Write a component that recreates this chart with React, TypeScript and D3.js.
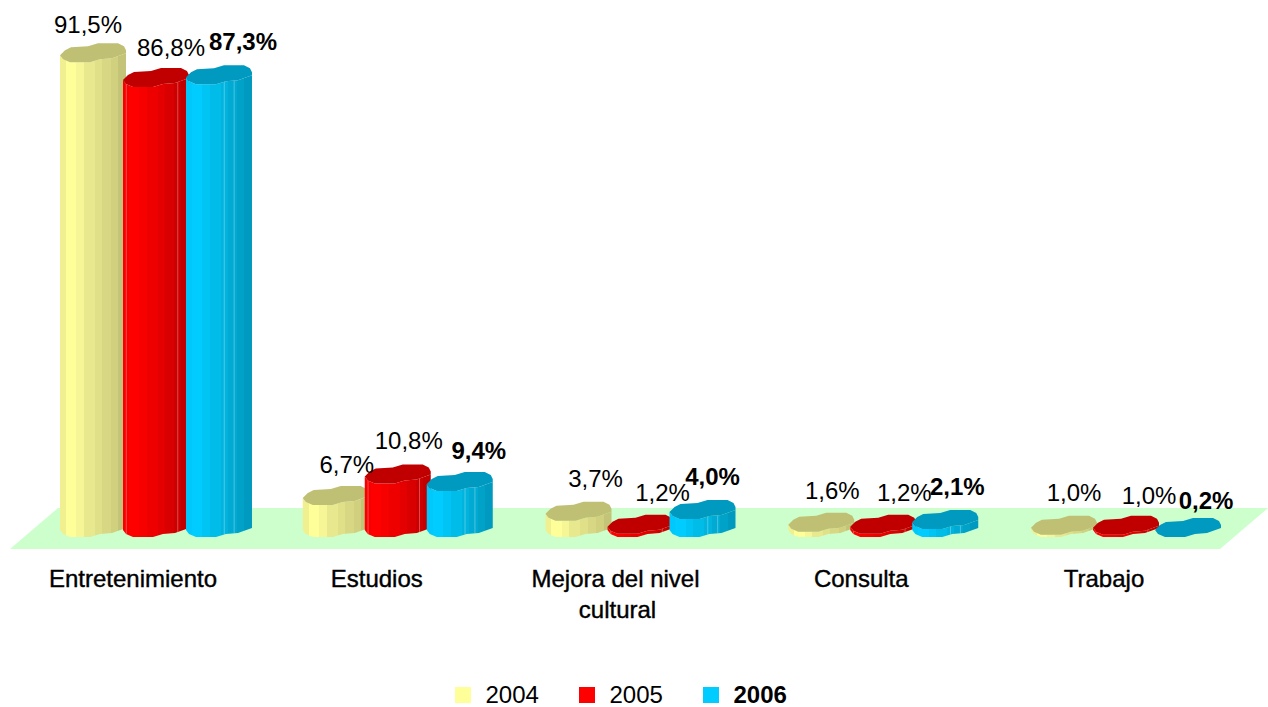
import React from "react";
import * as d3 from "d3";

const categories = ["Entretenimiento", "Estudios", "Mejora del nivel cultural", "Consulta", "Trabajo"];
const years = ["2004", "2005", "2006"];
const values2004 = [91.5, 6.7, 3.7, 1.6, 1.0];
const values2005 = [86.8, 10.8, 1.2, 1.2, 1.0];
const values2006 = [87.3, 9.4, 4.0, 2.1, 0.2];
const seriesValues = [values2004, values2005, values2006];

// colours: top surface + stepped shading of the side
const tops = ["#c0c074", "#c00000", "#0099c0"];
const legendColors = ["#ffff99", "#ff0000", "#00ccff"];
const sideBands = [
  ["#f0f090", "#ffff99", "#f6f697", "#e8e88e", "#e0e088", "#d8d884", "#d0d07e", "#c4c478"],
  ["#f80000", "#ff0000", "#f60000", "#ee0000", "#e40000", "#d80000", "#cc0000", "#c00000"],
  ["#00c8fa", "#00ccff", "#00c4f4", "#00bce8", "#00b4de", "#00aad2", "#00a2c8", "#0099c0"],
];
const bandWidths = [0.09, 0.16, 0.11, 0.17, 0.11, 0.13, 0.11, 0.12];
// thin light ridges on the side, as fraction of the bar width
const ridges = [[], [0.05, 0.83], [0.58, 0.73]];

// lumpy outline of a bar's top, relative to its left edge
const outlineBack: [number, number][] = [[0, 0], [5, -5], [11, -8], [28, -9], [38, -12], [58, -12], [64, -9], [66, -5]];
const outlineFront: [number, number][] = [[66, -2], [52, 3], [40, 4], [30, 7], [10, 7], [3, 4], [0, 0]];

// hand placement of the value labels, per category and series [dx, baseline offset]
const labelNudge: [number, number][][] = [
  [[28, -22], [48, -24], [57, -27]],
  [[44, -25], [44, -28], [52, -25]],
  [[50, -27], [55, -26], [43, -27]],
  [[44, -26], [54, -26], [45, -27]],
  [[43, -27], [56, -24], [51, -23]],
];
const catNudge = [0, 1, -3, 0, 0];

const W = 1268;
const H = 707;
const baseY = 533;
const barBottom = 530;
const barW = 66;
const font = "'Liberation Sans', Arial, sans-serif";

const x0 = d3.scalePoint<string>().domain(categories).range([60, 1031]);
const x1 = d3.scalePoint<string>().domain(years).range([0, 124]);
const y = d3.scaleLinear().domain([0, 100]).range([baseY, baseY - 522]);
const path = d3.line<[number, number]>().x((d) => d[0]).y((d) => d[1]);

// first group sits a bit wider apart than the others
const barLeft = (cat: string, yi: number) =>
  (x0(cat) as number) + (x1(years[yi]) as number) * (cat === categories[0] ? 1.016 : 1);

const frontY = d3
  .scaleLinear()
  .domain(outlineFront.map((p) => p[0]).reverse())
  .range(outlineFront.map((p) => p[1]).reverse());

const Bar = ({ cat, yi, value }: { cat: string; yi: number; value: number }) => {
  const left = barLeft(cat, yi);
  const top = Math.min(y(value), barBottom);
  const h = barBottom - top;
  const at = (p: [number, number], dy = 0): [number, number] => [left + p[0], top + p[1] + dy];
  const topShape = [...outlineBack, ...outlineFront].map((p) => at(p));
  const side = [
    ...outlineFront.map((p) => at(p)).reverse(),
    ...outlineFront.map((p) => at(p, h)),
  ];
  return (
    <g>
      <path d={path(side) + "Z"} fill={`url(#side${yi})`} />
      {ridges[yi].map((f) => {
        const px = f * barW;
        return (
          <line
            key={f}
            x1={left + px}
            x2={left + px}
            y1={top + frontY(px)}
            y2={top + frontY(px) + h}
            stroke="#fff"
            strokeOpacity={0.3}
          />
        );
      })}
      <path d={path(topShape) + "Z"} fill={tops[yi]} />
    </g>
  );
};

export default function App() {
  const floor: [number, number][] = [[58, 508], [1268, 508], [1220, 549], [10, 549]];
  const bandEdges = d3.cumsum(bandWidths);
  return (
    <svg
      width={W}
      height={H}
      viewBox={`0 0 ${W} ${H}`}
      style={{ position: "absolute", left: 0, top: 0 }}
      fontFamily={font}
      fontSize={24}
    >
      <defs>
        {sideBands.map((bands, i) => (
          <linearGradient key={i} id={`side${i}`} x1="0" x2="1" y1="0" y2="0">
            {bands.flatMap((c, k) => [
              <stop key={k + "a"} offset={k === 0 ? 0 : bandEdges[k - 1]} stopColor={c} />,
              <stop key={k + "b"} offset={bandEdges[k]} stopColor={c} />,
            ])}
          </linearGradient>
        ))}
      </defs>
      <path d={path(floor) + "Z"} fill="#ccffcc" />

      {categories.map((cat, ci) => (
        <g key={cat}>
          {years.map((yr, yi) => (
            <Bar key={yr} cat={cat} yi={yi} value={seriesValues[yi][ci]} />
          ))}
        </g>
      ))}

      {categories.map((cat, ci) =>
        years.map((yr, yi) => {
          const v = seriesValues[yi][ci];
          const [dx, dy] = labelNudge[ci][yi];
          return (
            <text
              key={cat + yr}
              x={barLeft(cat, yi) + dx}
              y={y(v) + dy}
              textAnchor="middle"
              fontWeight={yi === 2 ? "bold" : "normal"}
              fill="#000"
            >
              {v.toFixed(1).replace(".", ",") + "%"}
            </text>
          );
        })
      )}

      {categories.map((cat, ci) => {
        const cx = (x0(cat) as number) + 73 + catNudge[ci];
        const lines = cat === "Mejora del nivel cultural" ? ["Mejora del nivel", "cultural"] : [cat];
        return (
          <text key={cat} textAnchor="middle" fill="#000" stroke="#000" strokeWidth={0.4}>
            {lines.map((t, i) => (
              <tspan key={t} x={cx + i * 2} y={587 + i * 31}>
                {t}
              </tspan>
            ))}
          </text>
        );
      })}

      {years.map((yr, i) => {
        const lx = d3.scalePoint<string>().domain(years).range([455, 703])(yr) as number;
        return (
          <g key={yr}>
            <rect x={lx} y={687} width={16} height={16} fill={legendColors[i]} />
            <text x={lx + 30.5} y={703} fontWeight={i === 2 ? "bold" : "normal"}>
              {yr}
            </text>
          </g>
        );
      })}
    </svg>
  );
}
